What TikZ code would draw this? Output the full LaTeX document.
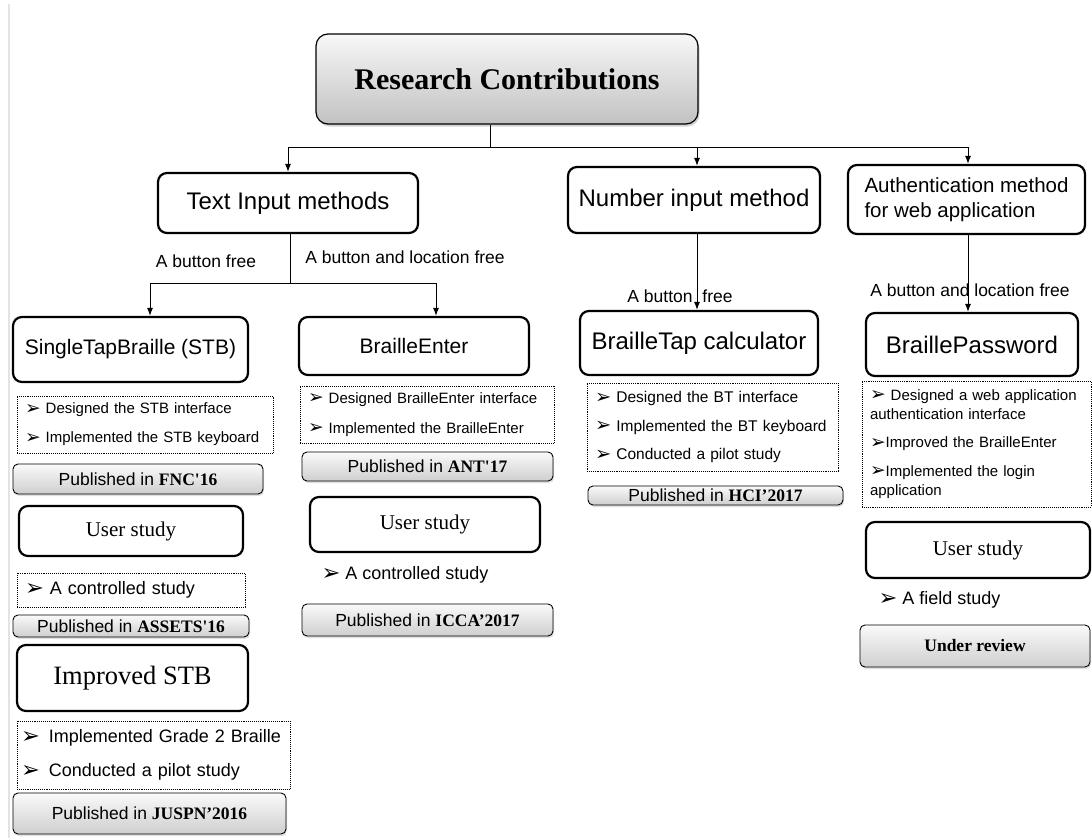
\documentclass[tikz,border=0pt]{standalone}
\usepackage{fontspec}
\setmainfont{Liberation Serif}
\setsansfont{Liberation Sans}
\newfontfamily\symfont{DejaVu Sans}
\usetikzlibrary{arrows.meta,shadows}

\newcommand\bul{\raisebox{-.04em}{\scalebox{1.25}{\symfont\char"27A2}}}

\tikzset{
  head_box/.style={rounded corners=12pt, draw=black, line width=1.2pt,
    top color=gray!6, bottom color=gray!48,
    drop shadow={opacity=.35, shadow xshift=1.5pt, shadow yshift=-2.5pt}},
  title_txt/.style={font=\rmfamily\bfseries\fontsize{30}{32}\selectfont},
  cat_box/.style={rounded corners=9pt, draw=black, line width=2.2pt, fill=white,
    inner sep=0pt, font=\sffamily\fontsize{24}{25}\selectfont},
  tool_box/.style={cat_box},
  study_box/.style={rounded corners=9pt, draw=black, line width=2.2pt, fill=white,
    inner sep=0pt, font=\rmfamily\fontsize{21}{22}\selectfont},
  note_box/.style={draw=black, densely dotted, line width=.9pt, inner xsep=8pt,
    inner ysep=0pt, align=left, font=\sffamily\fontsize{15}{29}\selectfont},
  pub_box/.style={rounded corners=5pt, draw=black, line width=.9pt, inner sep=0pt,
    top color=gray!4, bottom color=gray!38,
    drop shadow={opacity=.25, shadow xshift=1pt, shadow yshift=-2pt},
    font=\sffamily\fontsize{17.5}{18}\selectfont},
  link_lbl/.style={font=\sffamily\fontsize{17.5}{18}\selectfont, inner sep=0pt},
  plain_txt/.style={font=\sffamily\fontsize{18}{18}\selectfont, inner sep=0pt},
}
\newcommand\venue[1]{{\rmfamily\bfseries #1}}

\begin{document}
\begin{tikzpicture}[
  x=1pt, y=-1pt,
  link/.style={line width=1pt},
  link_arr/.style={link, -{Latex[length=8pt,width=6pt]}},
  ]

  \useasboundingbox (0,0) rectangle (1092,838);
  \draw[gray!22, line width=2pt] (9,4) -- (9,838);

  \node[head_box, title_txt, minimum width=382pt, minimum height=90pt] (title) at (507,79)
    {Research Contributions};

  \node[cat_box, minimum width=260pt, minimum height=60pt] (txt_in) at (288,203) {Text Input methods};
  \node[cat_box, minimum width=252pt, minimum height=66pt] (num_in) at (694,200) {Number input method};
  \node[cat_box, minimum width=237pt, minimum height=69pt, align=left,
    font=\sffamily\fontsize{20.5}{25}\selectfont] (auth) at (966.5,199.5) {Authentication method\\for web application};

  \coordinate (bus_l) at (288,147);
  \coordinate (bus_m) at (490,147);
  \coordinate (bus_n) at (697,147);
  \coordinate (bus_r) at (968,147);
  \draw[link] (title.south -| bus_m) -- (bus_m);
  \draw[link] (bus_l) -- (bus_r);
  \foreach \b/\n in {bus_l/txt_in, bus_n/num_in, bus_r/auth}{
    \draw[link_arr] (\b) -- (\b |- \n.north);
  }

  \node[tool_box, minimum width=235pt, minimum height=65pt,
    font=\sffamily\fontsize{21}{22}\selectfont] (stb) at (130.5,349.5) {SingleTapBraille (STB)};
  \node[tool_box, minimum width=230pt, minimum height=58pt,
    font=\sffamily\fontsize{21}{22}\selectfont] (benter) at (414,346) {BrailleEnter};
  \node[tool_box, minimum width=238pt, minimum height=64pt] (btap) at (699,343) {BrailleTap calculator};
  \node[tool_box, minimum width=212pt, minimum height=63pt] (bpass) at (972,344.5) {BraillePassword};

  \coordinate (split_c) at (290,283);
  \coordinate (split_l) at (150,283);
  \coordinate (split_r) at (436,283);
  \draw[link] (txt_in.south -| split_c) -- (split_c);
  \draw[link] (split_l) -- (split_r);
  \draw[link_arr] (split_l) -- (split_l |- stb.north);
  \draw[link_arr] (split_r) -- (split_r |- benter.north);
  \draw[link_arr] (num_in.south -| bus_n) -- (btap.north -| bus_n);
  \draw[link_arr] (auth.south -| bus_r) -- (bpass.north -| bus_r);

  \node[link_lbl] (lbl_bf) at (206,261) {A button free};
  \node[link_lbl] (lbl_blf) at (405,257) {A button and location free};
  \node[link_lbl] (lbl_num) at (680,296) {A button\hspace{5pt} free};
  \node[link_lbl] (lbl_auth) at (970,290) {A button and location free};

  % single tap braille
  \node[note_box, minimum width=256pt, minimum height=57pt, text width=240pt] (stb_note) at (145,424.5)
    {\bul{} Designed the STB interface\\\bul{} Implemented the STB keyboard};
  \node[pub_box, minimum width=250pt, minimum height=30pt] (pub_fnc) at (138,479)
    {Published in \venue{FNC\textquotesingle16}};
  \node[study_box, minimum width=224pt, minimum height=50pt] (stb_study) at (131,531) {User study};
  \node[note_box, minimum width=228pt, minimum height=34pt, text width=212pt,
    font=\sffamily\fontsize{18}{18}\selectfont] (stb_cs) at (131,590) {\bul{} A controlled study};
  \node[pub_box, minimum width=236pt, minimum height=22pt] (pub_assets) at (131,626)
    {Published in \venue{ASSETS\textquotesingle16}};
  \node[study_box, minimum width=231pt, minimum height=66pt,
    font=\rmfamily\fontsize{26.5}{28}\selectfont] (istb) at (132.5,678) {Improved STB};
  \node[note_box, minimum width=273pt, minimum height=68pt, inner xsep=4pt, text width=265pt,
    font=\sffamily\fontsize{18}{34}\selectfont] (istb_note) at (153.5,755)
    {\bul\enspace Implemented Grade 2 Braille\\\bul\enspace Conducted a pilot study};
  \node[pub_box, minimum width=273pt, minimum height=41pt] (pub_juspn) at (149.5,813.5)
    {Published in \venue{JUSPN'2016}};

  % braille enter
  \node[note_box, minimum width=254pt, minimum height=57pt, text width=238pt,
    font=\sffamily\fontsize{15}{30}\selectfont] (benter_note) at (427,414.5)
    {\bul{} Designed BrailleEnter interface\\\bul{} Implemented the BrailleEnter};
  \node[pub_box, minimum width=251pt, minimum height=29pt] (pub_ant) at (427.5,466.5)
    {Published in \venue{ANT\textquotesingle17}};
  \node[study_box, minimum width=230pt, minimum height=55pt] (benter_study) at (425,524.5) {User study};
  \node[plain_txt] (benter_cs) at (405,575) {\bul{} A controlled study};
  \node[pub_box, minimum width=251pt, minimum height=32pt] (pub_icca) at (427.5,620)
    {Published in \venue{ICCA'2017}};

  % braille tap
  \node[note_box, minimum width=251pt, minimum height=88pt, text width=235pt,
    font=\sffamily\fontsize{15.5}{28.5}\selectfont] (btap_note) at (712.5,427)
    {\bul{} Designed the BT interface\\\bul{} Implemented the BT keyboard\\\bul{} Conducted a pilot study};
  \node[pub_box, minimum width=255pt, minimum height=19pt] (pub_hci) at (715.5,495.5)
    {Published in \venue{HCI'2017}};

  % braille password
  \node[note_box, minimum width=229pt, minimum height=126pt, text width=213pt,
    font=\sffamily\fontsize{15}{19}\selectfont] (bpass_note) at (976.5,444)
    {\bul{} Designed a web application\\authentication interface\\[9.5pt]
     \bul Improved the BrailleEnter\\[9.5pt]\bul Implemented the login\\application};
  \node[study_box, minimum width=224pt, minimum height=56pt] (bpass_study) at (978,550) {User study};
  \node[plain_txt] (bpass_fs) at (939.5,600) {\bul{} A field study};
  \node[pub_box, minimum width=230pt, minimum height=42pt] (pub_rev) at (975,646)
    {\venue{Under review}};

\end{tikzpicture}
\end{document}
